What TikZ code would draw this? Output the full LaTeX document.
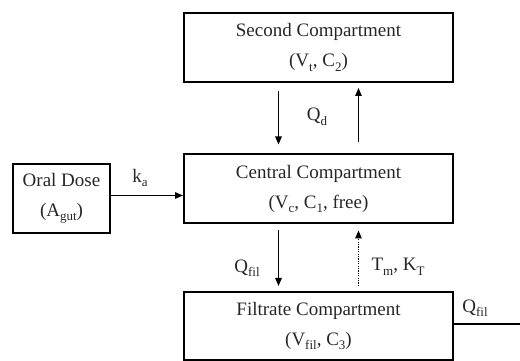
\documentclass[tikz,border=0pt]{standalone}
\usepackage{fontspec}
\setmainfont{Liberation Serif}
\usetikzlibrary{arrows.meta}
\newcommand{\lowsub}[1]{\raisebox{-4.5pt}{\fontsize{13}{13}\selectfont #1}}
\tikzset{
  box/.style={draw, line width=2pt, minimum width=269pt, minimum height=69pt, align=center, inner sep=0pt,
    font=\fontsize{19}{30}\selectfont, text=black!85},
  smallbox/.style={box, minimum width=97pt},
  flow/.style={line width=1.3pt, -{Triangle[length=8pt,width=6.5pt]}},
  lbl/.style={font=\fontsize{19}{22}\selectfont, text=black!85, inner sep=0pt}
}
\begin{document}
\begin{tikzpicture}[x=1pt,y=1pt]
\useasboundingbox (0,0) rectangle (520,361);
\node[box] (second) at (318.5,313.5) {Second Compartment\\(V\lowsub{t}, C\lowsub{2})};
\node[box] (central) at (318.5,172) {Central Compartment\\(V\lowsub{c}, C\lowsub{1}, free)};
\node[box, minimum height=68pt] (filtrate) at (318.5,35) {Filtrate Compartment\\(V\lowsub{fil}, C\lowsub{3})};
\node[smallbox] (oral) at (61.5,162.5) {Oral Dose\\(A\lowsub{gut})};
\coordinate (out) at (520,0);
% arrows between second and central
\draw[flow, shorten <=8pt, shorten >=9pt] ([xshift=-40pt]second.south) -- ([xshift=-40pt]central.north);
\draw[flow, shorten <=11pt, shorten >=5pt] ([xshift=40pt]central.north) -- ([xshift=40pt]second.south);
% arrows between central and filtrate
\draw[flow, shorten <=6pt, shorten >=5pt] ([xshift=-40pt]central.south) -- ([xshift=-40pt]filtrate.north);
\draw[flow, dash pattern=on 1.2pt off 1.2pt, shorten <=5pt, shorten >=6pt] ([xshift=40pt]filtrate.north) -- ([xshift=40pt]central.south);
% oral dose to central
\draw[flow] ([yshift=3pt]oral.east) -- ([yshift=3pt]oral.east -| central.west);
% output
\draw[line width=1.3pt] ([yshift=2pt]filtrate.east) -- ([yshift=2pt]filtrate.east -| out);
% labels
\node[lbl] (qd) at (317,244) {Q\lowsub{d}};
\node[lbl] (ka) at (140,183) {k\lowsub{a}};
\node[lbl] (qfil1) at (247,93) {Q\lowsub{fil}};
\node[lbl] (tm) at (398,94) {T\lowsub{m}, K\lowsub{T}};
\node[lbl] (qfil2) at (475,53) {Q\lowsub{fil}};
\end{tikzpicture}
\end{document}
